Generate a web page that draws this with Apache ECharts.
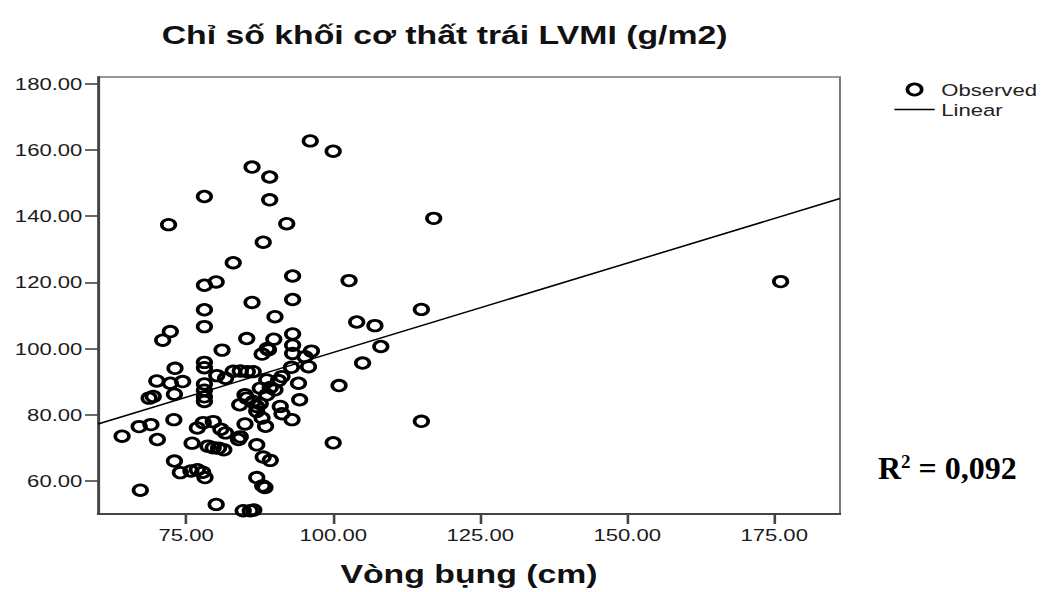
<!DOCTYPE html>
<html>
<head>
<meta charset="utf-8">
<script src="https://cdn.jsdelivr.net/npm/echarts@6/dist/echarts.min.js"></script>
<style>
html,body{margin:0;padding:0;background:#fff;overflow:hidden;}
#wrap{width:1056px;height:592px;overflow:hidden;}
#chart{height:592px;transform-origin:0 0;}
</style>
</head>
<body>
<div id="wrap"><div id="chart"></div></div>
<script>
// ---- data ----
const waist = [96.1,100.0,86.2,89.2,78.1,89.2,72.0,92.1,88.1,83.0,78.1,80.1,93.1,102.7,176.1,117.1,86.2,93.1,78.1,115.0,
  90.1,104.0,107.1,108.1,105.0,101.0,115.0,100.0,78.1,72.3,71.0,81.1,78.1,78.1,73.1,80.2,81.7,70.0,72.3,74.4,
  78.1,78.1,73.0,78.1,68.7,69.4,78.1,85.3,89.9,93.1,89.0,87.9,93.1,96.3,93.1,95.2,95.8,92.9,91.3,94.1,
  83.0,84.2,85.4,86.4,88.7,87.6,90.1,85.0,84.1,85.3,86.4,87.0,88.7,89.3,90.7,91.0,91.3,93.0,94.3,85.0,
  87.9,88.5,84.2,87.0,88.1,89.3,87.0,88.0,88.4,84.7,85.9,86.5,80.1,67.2,64.1,67.0,69.0,70.1,72.9,73.0,
  74.0,75.8,76.9,77.8,78.2,76.0,76.9,77.9,79.6,80.9,81.7,78.7,79.6,80.5,81.4,83.9,88.8,87.0,87.6];
const lvmi = [162.7,159.6,154.8,151.8,145.9,144.9,137.4,137.7,132.1,125.9,119.1,120.1,121.9,120.5,120.2,139.3,113.9,114.8,111.7,111.8,
  109.6,108.0,106.9,100.6,95.6,88.8,78.0,71.5,106.6,105.1,102.5,99.5,95.8,94.2,94.0,91.8,91.0,90.2,89.5,90.0,
  89.3,87.4,86.2,85.4,85.0,85.5,84.0,103.0,102.8,104.4,99.6,98.3,101.0,99.2,98.5,97.5,94.5,94.3,91.5,89.5,
  93.1,93.2,93.0,93.0,90.5,88.0,87.5,86.0,83.0,85.0,84.0,81.0,86.0,88.2,90.3,82.5,80.3,78.5,84.5,77.2,
  79.0,76.5,73.3,70.9,67.2,66.2,61.0,58.5,58.0,51.0,51.0,51.2,52.9,57.2,73.5,76.4,77.0,72.5,78.5,66.0,
  62.5,63.0,63.4,62.6,61.0,71.4,76.0,77.6,77.9,75.6,74.5,70.5,70.0,69.9,69.4,72.5,100.0,82.5,83.3];
const fitX = [60, 186.2];
const fitY = [77.2, 145.3];
const xTicks = [75, 100, 125, 150, 175];
const yTicks = [60, 80, 100, 120, 140, 160, 180];
const titleText = 'Chỉ số khối cơ thất trái LVMI (g/m2)';
const xName = 'Vòng bụng (cm)';
const seriesNames = ['Observed', 'Linear'];
const r2Text = '0,092';

// ---- layout ----
const S = 1.3; // horizontal stretch of the original picture
const W = 1056 / S;
const el = document.getElementById('chart');
el.style.width = W + 'px';
el.style.transform = 'scaleX(' + S + ')';

const chart = echarts.init(el, null, {renderer: 'svg', width: W, height: 592});
const font = '"Liberation Sans", Arial, sans-serif';
const fmt = v => Number(v).toFixed(2);

chart.setOption({
  animation: false,
  backgroundColor: '#fff',
  title: {
    text: titleText,
    left: 342, top: 22, textAlign: 'center', padding: 0,
    textStyle: {fontFamily: font, fontSize: 26, fontWeight: 'bold', color: '#111'}
  },
  legend: {
    orient: 'vertical', left: 688, top: 81, itemGap: 3,
    itemWidth: 31, itemHeight: 11, padding: 0,
    textStyle: {fontFamily: font, fontSize: 17, color: '#222'},
    data: [
      {name: seriesNames[0], icon: 'circle', itemStyle: {color: 'none', borderColor: '#000', borderWidth: 2.8}},
      {name: seriesNames[1], icon: 'path://M0 0H31V1.5H0Z', itemStyle: {color: '#000', borderWidth: 0}}
    ]
  },
  grid: {left: 98 / S, right: (1056 - 840) / S, top: 77, bottom: 75, show: true, borderColor: '#777', borderWidth: 1.5},
  xAxis: {
    type: 'value', min: 60, max: 186.2,
    name: xName, nameLocation: 'middle', nameGap: 47,
    nameTextStyle: {fontFamily: font, fontSize: 26, fontWeight: 'bold', color: '#111'},
    axisLine: {show: true, lineStyle: {color: '#444', width: 2}},
    axisTick: {show: true, customValues: xTicks, length: 10, lineStyle: {color: '#444', width: 2}},
    axisLabel: {customValues: xTicks, formatter: fmt, margin: 12, fontFamily: font, fontSize: 17, color: '#1a1a1a'},
    splitLine: {show: false}
  },
  yAxis: {
    type: 'value', min: 50, max: 182,
    axisLine: {show: true, lineStyle: {color: '#444', width: 2}},
    axisTick: {show: true, customValues: yTicks, length: 10, lineStyle: {color: '#444', width: 1.6}},
    axisLabel: {customValues: yTicks, formatter: fmt, margin: 12, fontFamily: font, fontSize: 17, color: '#1a1a1a'},
    splitLine: {show: false}
  },
  series: [
    {
      name: seriesNames[0], type: 'scatter', symbol: 'circle', symbolSize: 10.5, clip: false,
      itemStyle: {color: 'none', borderColor: '#000', borderWidth: 2.8, opacity: 1},
      emphasis: {disabled: true},
      data: waist.map((x, i) => [x, lvmi[i]]), z: 3
    },
    {
      name: seriesNames[1], type: 'line', symbol: 'none', showSymbol: false,
      itemStyle: {color: '#000'},
      lineStyle: {color: '#000', width: 1.5},
      emphasis: {disabled: true},
      data: fitX.map((x, i) => [x, fitY[i]]), z: 2
    }
  ],
  graphic: [{
    type: 'text', x: 878 / S, y: 468, scaleX: 1 / S,
    style: {
      text: '{r|R}{s|2}{r| = ' + r2Text + '}',
      verticalAlign: 'middle', align: 'left',
      rich: {
        r: {fontFamily: '"Liberation Serif", "Times New Roman", serif', fontSize: 32, fontWeight: 'bold', fill: '#000'},
        s: {fontFamily: '"Liberation Serif", "Times New Roman", serif', fontSize: 19, fontWeight: 'bold', fill: '#000', verticalAlign: 'top', padding: [0, 0, 14, 0]}
      }
    }
  }]
});
</script>
</body>
</html>
